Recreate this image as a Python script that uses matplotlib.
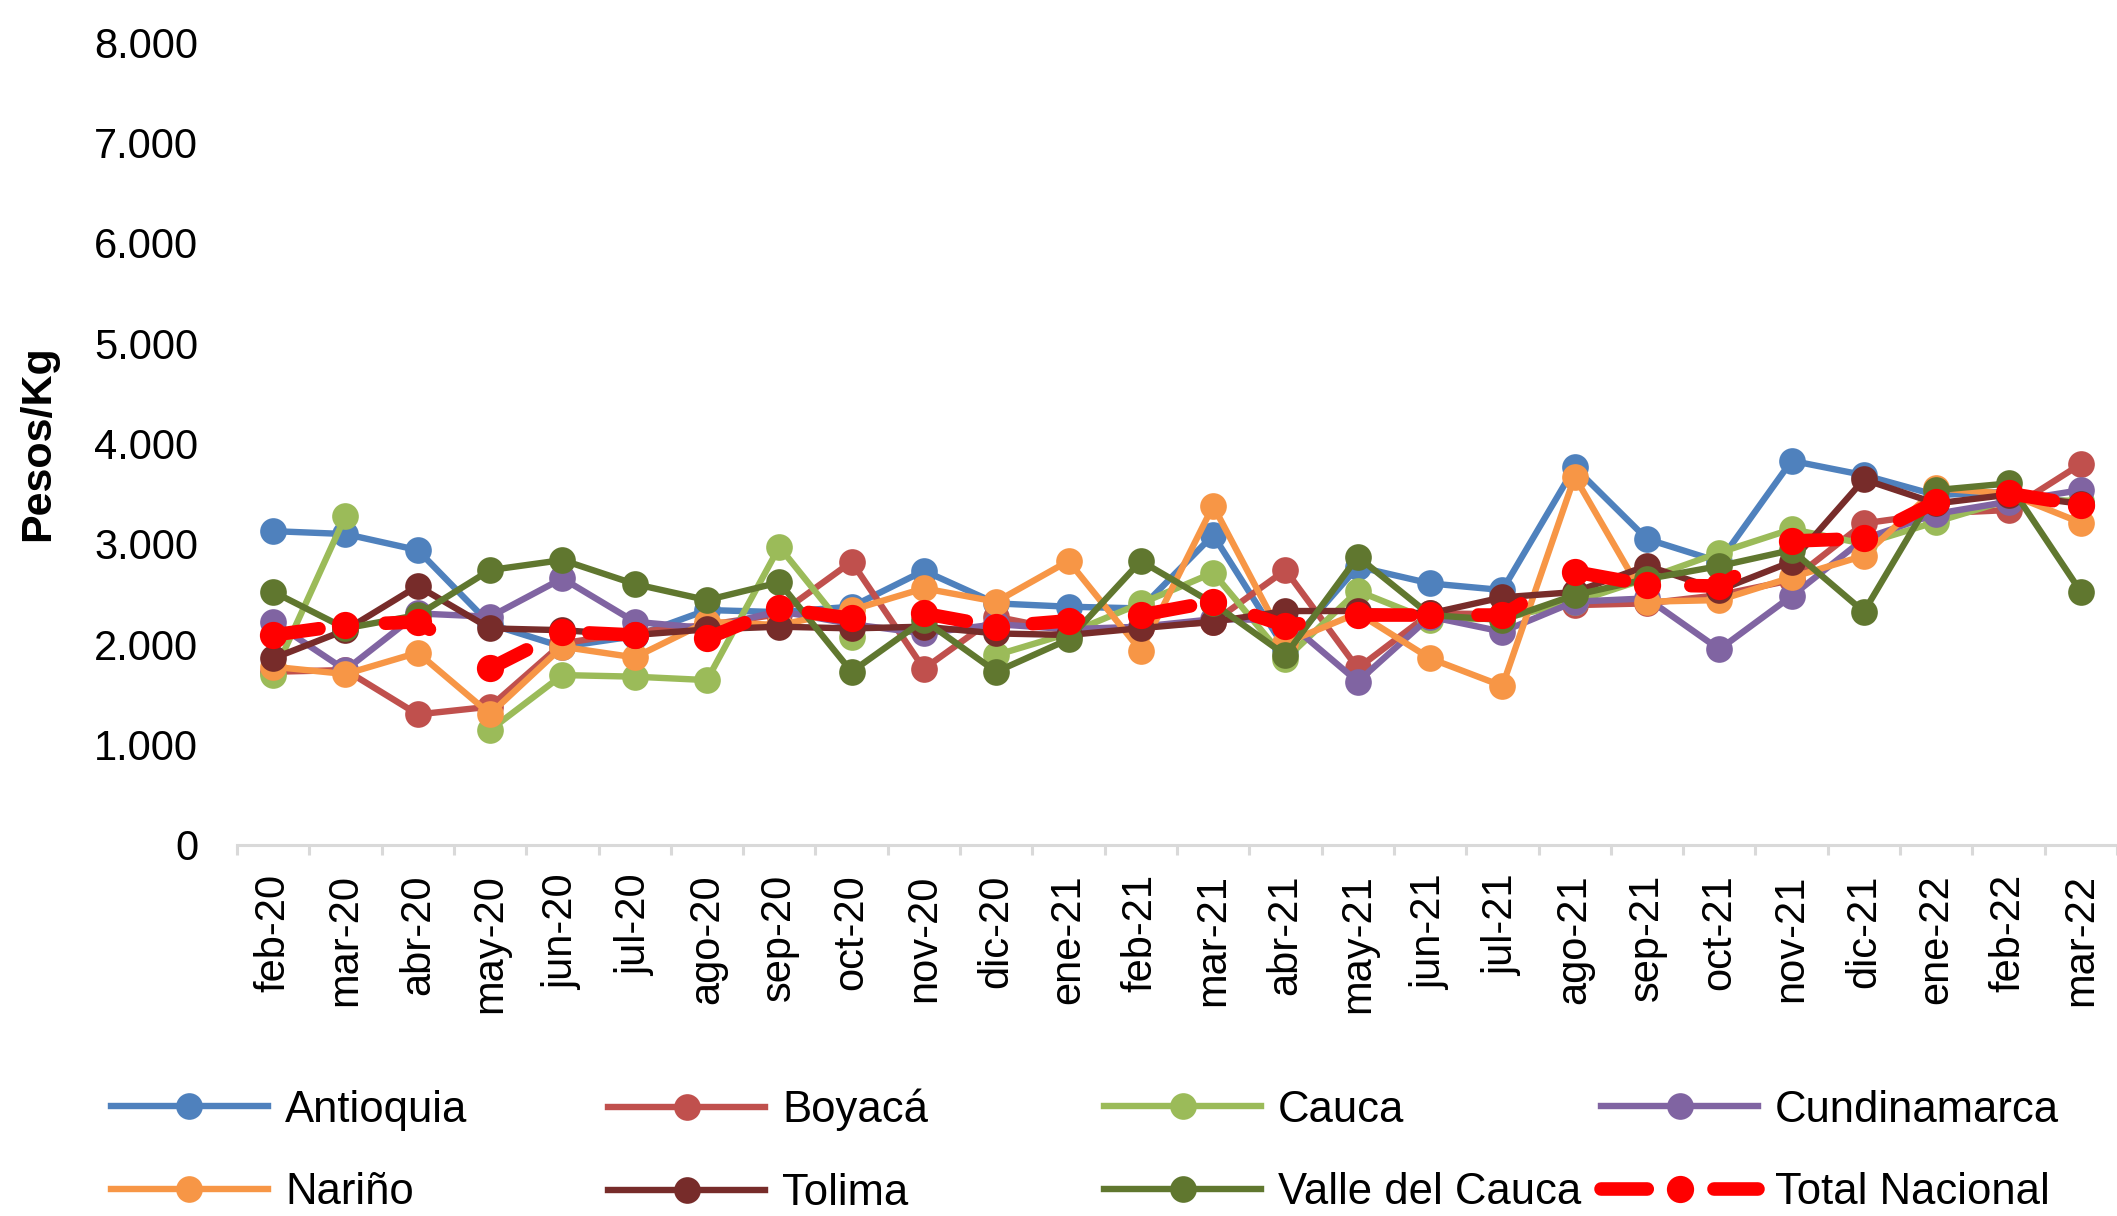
import numpy as np
import matplotlib
matplotlib.use('Agg')
import matplotlib.pyplot as plt
from matplotlib.ticker import FuncFormatter, FixedLocator

plt.rcParams['font.family'] = ['Liberation Sans', 'DejaVu Sans']

# precios promedio mensuales (pesos/kg)
meses = ['feb-20', 'mar-20', 'abr-20', 'may-20', 'jun-20', 'jul-20', 'ago-20', 'sep-20',
         'oct-20', 'nov-20', 'dic-20', 'ene-21', 'feb-21', 'mar-21', 'abr-21', 'may-21',
         'jun-21', 'jul-21', 'ago-21', 'sep-21', 'oct-21', 'nov-21', 'dic-21', 'ene-22',
         'feb-22', 'mar-22']

antioquia = [3127, 3098, 2938, 2200, 1975, 2080, 2341, 2320, 2374, 2732, 2407, 2374, 2357,
             3088, 1950, 2772, 2606, 2540, 3762, 3048, 2822, 3828, 3685, 3486, 3520, 3400]
boyaca = [1726, 1743, 1301, 1378, 2009, 2120, 2191, 2300, 2822, 1756, 2274, 2130, 2175,
          2220, 2739, 1760, 2307, 2300, 2390, 2407, 2490, 2639, 3204, 3304, 3337, 3795]
cauca = [1693, 3277, np.nan, 1145, 1693, 1677, 1643, 2971, 2075, np.nan, 1892, 2108, 2407,
         2712, 1853, 2530, 2241, 2257, 2420, 2656, 2912, 3147, 3000, 3220, 3436, 3430]
cundinamarca = [2224, 1743, 2307, 2274, 2656, 2224, 2160, 2330, 2200, 2108, 2200, 2150, 2175,
                2250, 2241, 1627, 2274, 2125, 2424, 2457, 1949, 2480, 3050, 3300, 3420, 3536]
narino = [1776, 1703, 1916, 1305, 1975, 1869, 2224, 2191, 2341, 2557, 2424, 2829, 1935,
          3380, 2012, 2310, 1859, 1584, 3669, 2424, 2440, 2666, 2882, 3553, 3500, 3211]
tolima = [1859, 2141, 2580, 2158, 2140, 2092, 2148, 2175, 2158, 2175, 2108, 2092, 2160,
          2224, 2331, 2331, 2307, 2467, 2520, 2782, 2540, 2822, 3642, 3403, 3490, 3400]
valle = [2523, 2158, 2291, 2739, 2839, 2600, 2440, 2616, 1726, 2241, 1726, 2049, 2829,
         2407, 1892, 2872, 2291, 2241, 2490, 2650, 2779, 2938, 2324, 3536, 3602, 2523]
total = [2092, 2191, 2224, 1760, 2125, 2092, 2058, 2357, 2257, 2307, 2175, 2234, 2291,
         2424, 2184, 2291, 2291, 2291, 2722, 2590, 2580, 3028, 3054, 3420, 3503, 3386]

nombres = ['Antioquia', 'Boyacá', 'Cauca', 'Cundinamarca', 'Nariño', 'Tolima',
           'Valle del Cauca']
colores = ['#4F81BD', '#C0504D', '#9BBB59', '#8064A2', '#F79646', '#772C2A', '#60772F']

W, H = 2117, 1216
fig = plt.figure(figsize=(W / 200, H / 200), dpi=200)
ax = fig.add_axes([237 / W, 1 - 845 / H, 1 - 237 / W, (845 - 42) / H])

x = np.arange(len(meses))
for nombre, vals, col in zip(nombres, [antioquia, boyaca, cauca, cundinamarca, narino,
                                       tolima, valle], colores):
    ax.plot(x, vals, color=col, lw=2.3, marker='o', ms=8.6, label=nombre)

ax.plot(x, total, color='#FF0000', lw=4.9, ls=(0, (3.4, 4.9)), dash_capstyle='round',
        marker='o', ms=8.8, label='Total Nacional')

ax.set_xlim(-0.5, len(meses) - 0.5)
ax.set_ylim(0, 8000)
ax.set_yticks(np.arange(0, 8001, 1000))
ax.yaxis.set_major_formatter(FuncFormatter(lambda v, p: f'{v:,.0f}'.replace(',', '.')))
ax.tick_params(axis='y', length=0, pad=14, labelsize=15)

ax.set_xticks(x)
ax.set_xticklabels(meses, rotation=90, fontsize=15)
ax.xaxis.set_minor_locator(FixedLocator(np.arange(-0.5, len(meses), 1)))
ax.tick_params(axis='x', which='major', length=0, pad=10.5)
ax.tick_params(axis='x', which='minor', length=3.6, width=1.1, color='#D9D9D9')

for s in ['top', 'right', 'left']:
    ax.spines[s].set_visible(False)
ax.spines['bottom'].set_color('#D9D9D9')
ax.spines['bottom'].set_linewidth(1.1)

fig.text(38 / W, 1 - 443 / H, 'Pesos/Kg', rotation=90, ha='center', va='center',
         fontsize=15.5, fontweight='bold')

# leyenda en 4 columnas de ancho fijo
h, l = ax.get_legend_handles_labels()
for k, xs in enumerate([111, 608, 1104, 1601]):
    fig.legend([h[k], h[k + 4]], [l[k], l[k + 4]], loc='center left',
               bbox_to_anchor=(xs / W, 1 - 1151.5 / H), frameon=False, fontsize=15.7,
               handlelength=3.6, handletextpad=0.39, labelspacing=0.96,
               borderpad=0, borderaxespad=0, numpoints=1)

fig.savefig('out.png', dpi=200)
